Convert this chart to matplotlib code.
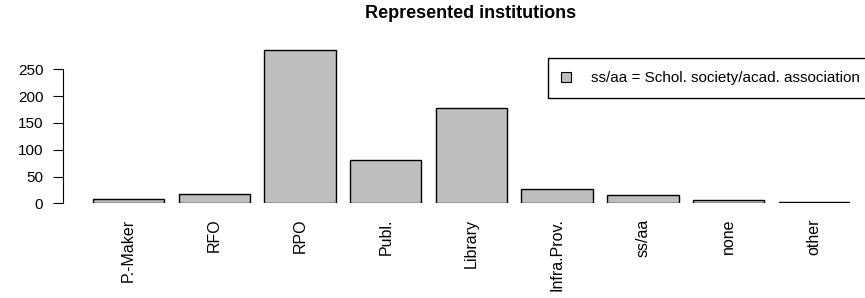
import matplotlib
matplotlib.use("Agg")
import matplotlib.pyplot as plt
from matplotlib.patches import Patch

plt.rcParams['font.family'] = ['Liberation Sans', 'DejaVu Sans']

categories = ['P.-Maker', 'RFO', 'RPO', 'Publ.', 'Library', 'Infra.Prov.', 'ss/aa', 'none', 'other']
counts = [8, 18, 286, 81, 178, 27, 15, 6, 2]
legend_text = 'ss/aa = Schol. society/acad. association'
title = 'Represented institutions'

W, H = 865, 298
fig = plt.figure(figsize=(W / 100, H / 100), dpi=100)

# axes placed in pixel terms: x 0..10.8 over 78.7..850 px, y=0 at 203.3 px
left, right = 78.7, 850
bottom, top = 203.3, 30
ax = fig.add_axes([left / W, 1 - bottom / H, (right - left) / W, (bottom - top) / H])

xs = [0.2 + 1.2 * i for i in range(len(categories))]
ax.bar(xs, counts, width=1, align='edge', color='#bebebe', edgecolor='black', linewidth=1)

ax.set_xlim(0, 10.8)
ax.set_ylim(0, (bottom - top) / 0.536)

for s in ['top', 'right', 'bottom']:
    ax.spines[s].set_visible(False)
ax.spines['left'].set_bounds(0, 250)
ax.spines['left'].set_position(('outward', 11.3))
ax.set_yticks([0, 50, 100, 150, 200, 250])
ax.tick_params(axis='y', length=7.2, pad=7, labelsize=11)

ax.set_xticks([x + 0.5 for x in xs])
ax.set_xticklabels(categories, rotation=90, va='top')
ax.tick_params(axis='x', length=0, pad=11, labelsize=11.5)

fig.text(471 / W, 1 - 18 / H, title, ha='center', va='baseline', fontsize=13, fontweight='bold')

leg = fig.legend(handles=[Patch(facecolor='#bebebe', edgecolor='black', linewidth=0.8)],
                 labels=[legend_text], loc='upper left',
                 bbox_to_anchor=(548 / W, 1 - 58 / H), fontsize=11,
                 fancybox=False, framealpha=1, edgecolor='black',
                 handlelength=0.65, handleheight=0.65, handletextpad=1.3,
                 borderpad=0.85, borderaxespad=0)
leg.get_frame().set_linewidth(1)

fig.savefig('out.png', dpi=100)
